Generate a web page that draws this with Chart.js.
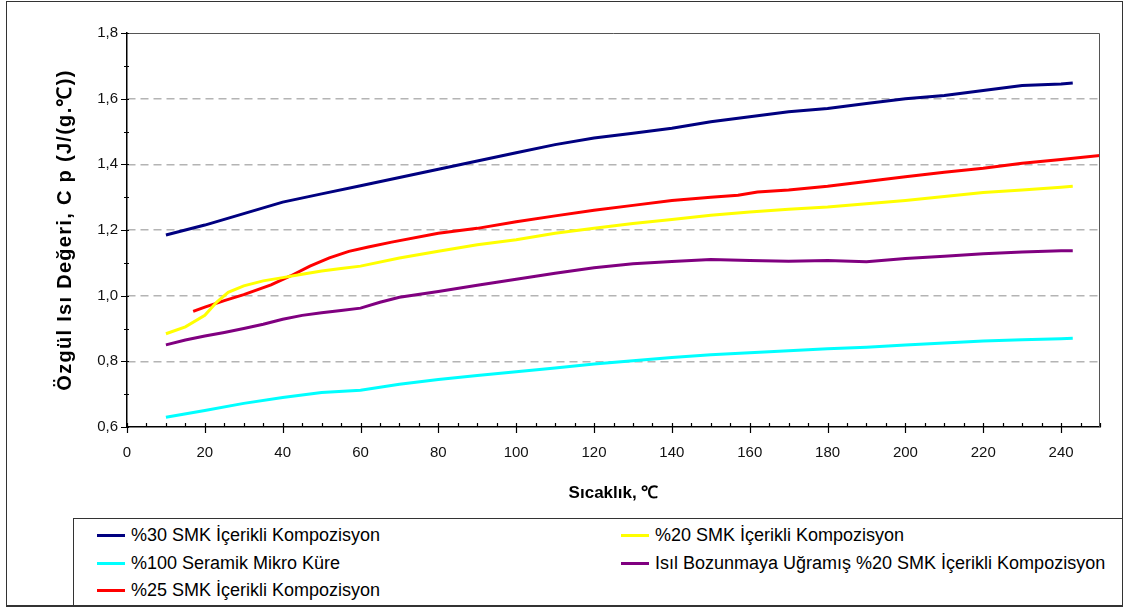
<!DOCTYPE html>
<html>
<head>
<meta charset="utf-8">
<script src="https://cdn.jsdelivr.net/npm/chart.js@4"></script>
<style>
  body { margin: 0; background: #fff; font-family: 'Liberation Sans', Arial, sans-serif; }
  #frame { position: absolute; left: 6px; top: 1px; width: 1117px; height: 606px; border: 1.5px solid #333; border-bottom-width: 2.5px; box-sizing: border-box; }
  #wrap { position: absolute; left: 0; top: 0; width: 1127px; height: 510px; }
  #legend { position: absolute; left: 73px; top: 518px; width: 1050px; height: 89px; border: 1.5px solid #333; border-bottom-width: 2.5px; box-sizing: border-box; background: #fff; }
  .item { position: absolute; font-size: 18px; color: #000; white-space: nowrap; line-height: 20px; }
  .item span.swatch { position: absolute; left: 0; top: 9px; width: 28px; height: 3px; }
  .item span.txt { position: absolute; left: 34px; top: 0; }
</style>
</head>
<body>
<div id="frame"></div>
<div id="wrap"><canvas id="cpChart" width="1127" height="510"></canvas></div>
<div id="legend"></div>
<script>
// Temperature (°C) and specific heat (J/(g.°C))
const temp30 = [10, 20, 30, 40, 50, 60, 70, 80, 90, 100, 110, 120, 130, 140, 150, 160, 170, 180, 190, 200, 210, 220, 230, 240, 243];
const cp30 = [1.185, 1.215, 1.25, 1.285, 1.31, 1.335, 1.36, 1.385, 1.41, 1.435, 1.46, 1.48, 1.495, 1.51, 1.53, 1.545, 1.56, 1.57, 1.585, 1.60, 1.61, 1.625, 1.64, 1.645, 1.648];

const temp20 = [10, 15, 20, 23, 26, 30, 35, 40, 45, 50, 55, 60, 70, 80, 90, 100, 110, 120, 130, 140, 150, 160, 170, 180, 190, 200, 210, 220, 230, 240, 243];
const cp20 = [0.884, 0.905, 0.94, 0.98, 1.01, 1.03, 1.045, 1.055, 1.065, 1.075, 1.083, 1.09, 1.115, 1.135, 1.155, 1.17, 1.19, 1.205, 1.22, 1.232, 1.245, 1.255, 1.263, 1.27, 1.28, 1.29, 1.302, 1.314, 1.322, 1.33, 1.333];

const temp100 = [10, 20, 30, 40, 50, 60, 70, 80, 90, 100, 110, 120, 130, 140, 150, 160, 170, 180, 190, 200, 210, 220, 230, 240, 243];
const cp100 = [0.63, 0.65, 0.672, 0.69, 0.705, 0.712, 0.73, 0.745, 0.757, 0.768, 0.78, 0.792, 0.802, 0.812, 0.82, 0.826, 0.832, 0.838, 0.843, 0.85, 0.856, 0.862, 0.866, 0.869, 0.87];

const tempIsil = [10, 15, 20, 25, 30, 35, 40, 45, 50, 55, 60, 65, 70, 80, 90, 100, 110, 120, 130, 140, 150, 160, 170, 180, 190, 200, 210, 220, 230, 240, 243];
const cpIsil = [0.85, 0.865, 0.877, 0.888, 0.9, 0.913, 0.928, 0.94, 0.948, 0.955, 0.962, 0.98, 0.995, 1.013, 1.032, 1.05, 1.068, 1.085, 1.097, 1.104, 1.11, 1.107, 1.105, 1.107, 1.103, 1.113, 1.12, 1.128, 1.133, 1.137, 1.137];

const temp25 = [17, 20, 25, 30, 37, 42, 47, 52, 57, 62, 68, 80, 90, 100, 110, 120, 130, 140, 150, 157, 162, 170, 180, 190, 200, 210, 220, 230, 240, 250];
const cp25 = [0.952, 0.965, 0.985, 1.003, 1.033, 1.06, 1.09, 1.115, 1.135, 1.148, 1.163, 1.19, 1.205, 1.225, 1.243, 1.26, 1.275, 1.29, 1.30, 1.306, 1.316, 1.322, 1.333, 1.348, 1.362, 1.376, 1.388, 1.403, 1.415, 1.427];

// Axis setup
const xMin = 0, xMax = 250, xStep = 20, xMinorStep = 5;
const yMin = 0.6, yMax = 1.8, yStep = 0.2, yMinorStep = 0.1;
const xTitle = 'Sıcaklık, ℃';
const yTitle = 'Özgül Isı Değeri, C p (J/(g.℃))';

const FONT = "'Liberation Sans', Arial, sans-serif";

function pts(xs, ys) {
    return xs.map((x, i) => ({ x: x, y: ys[i] }));
}

function series(label, xs, ys, color) {
    return {
        label: label,
        data: pts(xs, ys),
        borderColor: color,
        backgroundColor: color,
        borderWidth: 3,
        pointRadius: 0,
        tension: 0,
        fill: false
    };
}

// Draws the small tick marks and the grey top/right frame of the plot
const axisMarks = {
    id: 'axisMarks',
    afterDraw(chart) {
        const ctx = chart.ctx;
        const a = chart.chartArea;
        const xs = chart.scales.x, ys = chart.scales.y;
        ctx.save();
        ctx.setLineDash([]);
        ctx.strokeStyle = '#555';
        ctx.lineWidth = 1;
        ctx.beginPath();
        ctx.moveTo(a.left, a.top + 0.5);
        ctx.lineTo(a.right - 0.5, a.top + 0.5);
        ctx.lineTo(a.right - 0.5, a.bottom);
        ctx.stroke();

        ctx.strokeStyle = '#000';
        ctx.lineWidth = 1.2;
        ctx.beginPath();
        for (let v = xMin; v <= xMax; v += xMinorStep) {
            const px = Math.round(xs.getPixelForValue(v)) + 0.5;
            const major = v % xStep === 0;
            ctx.moveTo(px, a.bottom - 4);
            ctx.lineTo(px, a.bottom + (major ? 6 : 0));
        }
        for (let i = 0; i <= Math.round((yMax - yMin) / yMinorStep); i++) {
            const v = yMin + i * yMinorStep;
            const py = Math.round(ys.getPixelForValue(v)) + 0.5;
            const major = i % 2 === 0;
            ctx.moveTo(a.left - (major ? 6 : 3), py);
            ctx.lineTo(a.left + 2, py);
        }
        ctx.stroke();
        ctx.restore();
    }
};

const chart = new Chart(document.getElementById('cpChart').getContext('2d'), {
    type: 'line',
    data: {
        datasets: [
            series('%30 SMK İçerikli Kompozisyon', temp30, cp30, '#000080'),
            series('%20 SMK İçerikli Kompozisyon', temp20, cp20, '#ffff00'),
            series('%100 Seramik Mikro Küre', temp100, cp100, '#00ffff'),
            series('Isıl Bozunmaya Uğramış %20 SMK İçerikli Kompozisyon', tempIsil, cpIsil, '#800080'),
            series('%25 SMK İçerikli Kompozisyon', temp25, cp25, '#ff0000')
        ]
    },
    options: {
        responsive: false,
        animation: false,
        layout: { padding: { left: 0, top: 33, right: 27, bottom: 0 } },
        plugins: {
            legend: { display: false },
            tooltip: { enabled: false }
        },
        scales: {
            x: {
                type: 'linear',
                min: xMin,
                max: xMax,
                afterFit: scale => { scale.height = 83; },
                afterBuildTicks: scale => {
                    const t = [];
                    for (let v = xMin; v < xMax; v += xStep) t.push({ value: v });
                    scale.ticks = t;
                },
                grid: { display: false, drawTicks: false },
                border: { color: '#000', width: 1.5 },
                ticks: {
                    padding: 17,
                    color: '#111',
                    font: { family: FONT, size: 15 },
                    maxRotation: 0
                },
                title: {
                    display: true,
                    text: xTitle,
                    color: '#000',
                    font: { family: FONT, size: 17, weight: 'bold' },
                    padding: { top: 0, bottom: 6 }
                }
            },
            y: {
                min: yMin,
                max: yMax,
                afterFit: scale => { scale.width = 127; },
                afterBuildTicks: scale => {
                    const t = [];
                    for (let i = 0; i <= Math.round((yMax - yMin) / yStep); i++) t.push({ value: yMin + i * yStep });
                    scale.ticks = t;
                },
                grid: {
                    drawTicks: false,
                    color: c => (c.index === 0 || c.index === 6) ? 'rgba(0,0,0,0)' : '#b4b4b4',
                    lineWidth: 1.5
                },
                // dash here applies to the horizontal grid lines
                border: { color: '#000', width: 1.5, dash: [8, 5] },
                ticks: {
                    padding: 9,
                    color: '#111',
                    font: { family: FONT, size: 15 },
                    callback: v => v.toFixed(1).replace('.', ',')
                },
                title: {
                    display: true,
                    text: yTitle,
                    color: '#000',
                    font: { family: FONT, size: 20, weight: 'bold' },
                    padding: { top: 53, bottom: 0 }
                }
            }
        }
    },
    plugins: [axisMarks]
});

// The y title in the original is letter-spaced
const yScale = chart.scales.y;
const drawYTitle = yScale.drawTitle;
yScale.drawTitle = function () {
    this.ctx.letterSpacing = '1.3px';
    drawYTitle.call(this);
    this.ctx.letterSpacing = '0px';
};
chart.update();

// Legend in two columns, built from the chart's datasets
const legendEl = document.getElementById('legend');
const colX = [23, 547];
const rowY = [6, 34, 61];
chart.data.datasets.forEach((ds, i) => {
    const item = document.createElement('div');
    item.className = 'item';
    item.style.left = colX[i % 2] + 'px';
    item.style.top = rowY[Math.floor(i / 2)] + 'px';
    const sw = document.createElement('span');
    sw.className = 'swatch';
    sw.style.background = ds.borderColor;
    const tx = document.createElement('span');
    tx.className = 'txt';
    tx.textContent = ds.label;
    item.appendChild(sw);
    item.appendChild(tx);
    legendEl.appendChild(item);
});
</script>
</body>
</html>
